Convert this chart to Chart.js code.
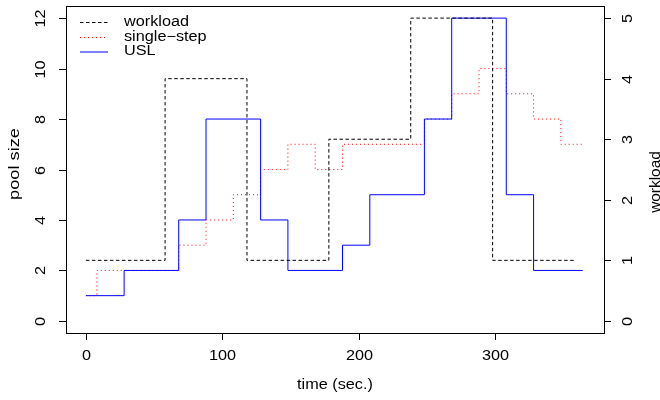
<!DOCTYPE html>
<html>
<head>
<meta charset="utf-8">
<script src="https://cdn.jsdelivr.net/npm/chart.js@4.4.0/dist/chart.umd.min.js"></script>
<style>
  html, body { margin: 0; padding: 0; background: #fff; }
  #wrap { width: 660px; height: 400px; }
</style>
</head>
<body>
<div id="wrap"><canvas id="poolChart" width="660" height="400"></canvas></div>
<script>
// step series: each level holds from its time until the next time
const workloadTimes = [0, 58, 118, 178, 238, 298, 358];
const workloadLevels = [1, 4, 1, 3, 5, 1, 1];

const singleStepTimes = [0, 8, 68, 88, 108, 128, 148, 168, 188, 248, 268, 288, 308, 328, 348, 365];
const singleStepSizes = [1, 2, 3, 4, 5, 6, 7, 6, 7, 8, 9, 10, 9, 8, 7, 7];

const uslTimes = [0, 28, 68, 88, 128, 148, 188, 208, 248, 268, 308, 328, 364];
const uslSizes = [1, 2, 4, 8, 4, 2, 3, 5, 8, 12, 5, 2, 2];

const timeTicks = [0, 100, 200, 300];
const poolTicks = [0, 2, 4, 6, 8, 10, 12];
const workloadTicks = [0, 1, 2, 3, 4, 5];

const legendNames = ['workload', 'single\u2212step', 'USL'];

const FONT = '14px "Liberation Sans", Arial, sans-serif';
const STRETCH = 1.16; // glyphs run a bit wide along the text direction

// range padded by 4% on both sides, like base R plots
function padRange(lo, hi) {
    const pad = (hi - lo) * 0.04;
    return { min: lo - pad, max: hi + pad };
}

function toPoints(times, values) {
    return times.map((t, i) => ({ x: t, y: values[i] }));
}

const allTimes = workloadTimes.concat(singleStepTimes, uslTimes);
const xRange = padRange(Math.min(...allTimes), Math.max(...allTimes));
const poolRange = padRange(poolTicks[0], poolTicks[poolTicks.length - 1]);
const loadRange = padRange(workloadTicks[0], workloadTicks[workloadTicks.length - 1]);

function drawText(ctx, text, x, y, rotated, align, stretch) {
    ctx.save();
    ctx.translate(x, y);
    if (rotated) ctx.rotate(-Math.PI / 2);
    ctx.scale(stretch || STRETCH, 1);
    ctx.textAlign = align || 'center';
    ctx.textBaseline = 'middle';
    ctx.fillText(text, 0, 0);
    ctx.restore();
}

// box, axes, titles and legend drawn the way base graphics does
const baseAxes = {
    id: 'baseAxes',
    afterDraw(chart) {
        const ctx = chart.ctx;
        const a = chart.chartArea;
        const xs = chart.scales.x;
        const yl = chart.scales.y;
        const yr = chart.scales.y2;
        const tick = 7;

        ctx.save();
        ctx.strokeStyle = '#000';
        ctx.fillStyle = '#000';
        ctx.lineWidth = 1;
        ctx.setLineDash([]);
        ctx.font = FONT;

        ctx.strokeRect(Math.round(a.left) + 0.5, Math.round(a.top) + 0.5,
            Math.round(a.right - a.left), Math.round(a.bottom - a.top));

        timeTicks.forEach(v => {
            const px = Math.round(xs.getPixelForValue(v)) + 0.5;
            ctx.beginPath();
            ctx.moveTo(px, a.bottom);
            ctx.lineTo(px, a.bottom + tick);
            ctx.stroke();
            drawText(ctx, String(v), px, 356, false);
        });
        drawText(ctx, 'time (sec.)', (a.left + a.right) / 2, 385, false);

        poolTicks.forEach(v => {
            const py = Math.round(yl.getPixelForValue(v)) + 0.5;
            ctx.beginPath();
            ctx.moveTo(a.left, py);
            ctx.lineTo(a.left - tick, py);
            ctx.stroke();
            drawText(ctx, String(v), 41, py, true);
        });
        drawText(ctx, 'pool size', 15, 164, true, 'center', 1.3);

        workloadTicks.forEach(v => {
            const py = Math.round(yr.getPixelForValue(v)) + 0.5;
            ctx.beginPath();
            ctx.moveTo(a.right, py);
            ctx.lineTo(a.right + tick, py);
            ctx.stroke();
            drawText(ctx, String(v), 628, py, true);
        });
        drawText(ctx, 'workload', 656, 182, true, 'center', 1.1);

        // legend without a box
        const rows = [22, 37, 51.5];
        chart.data.datasets.forEach((ds, i) => {
            ctx.save();
            ctx.strokeStyle = ds.borderColor;
            ctx.setLineDash(ds.borderDash || []);
            ctx.lineWidth = 1;
            ctx.beginPath();
            ctx.moveTo(80, rows[i] + 0.5);
            ctx.lineTo(108, rows[i] + 0.5);
            ctx.stroke();
            ctx.restore();
            drawText(ctx, legendNames[i], 124, rows[i], false, 'left');
        });
        ctx.restore();
    }
};

new Chart(document.getElementById('poolChart').getContext('2d'), {
    type: 'line',
    data: {
        datasets: [{
            label: legendNames[0],
            data: toPoints(workloadTimes, workloadLevels),
            yAxisID: 'y2',
            borderColor: '#000000',
            borderDash: [3.5, 2.5],
            order: 0
        }, {
            label: legendNames[1],
            data: toPoints(singleStepTimes, singleStepSizes),
            yAxisID: 'y',
            borderColor: '#ff0000',
            borderDash: [1, 3],
            order: 2
        }, {
            label: legendNames[2],
            data: toPoints(uslTimes, uslSizes),
            yAxisID: 'y',
            borderColor: '#0000ff',
            order: 1
        }]
    },
    options: {
        responsive: false,
        animation: false,
        events: [],
        layout: { padding: { left: 66, top: 6, right: 56, bottom: 67 } },
        datasets: {
            line: {
                stepped: 'before',
                borderWidth: 1,
                borderCapStyle: 'butt',
                pointRadius: 0,
                fill: false
            }
        },
        scales: {
            x: { type: 'linear', display: false, min: xRange.min, max: xRange.max },
            y: { type: 'linear', display: false, min: poolRange.min, max: poolRange.max },
            y2: { type: 'linear', display: false, min: loadRange.min, max: loadRange.max }
        },
        plugins: {
            legend: { display: false },
            tooltip: { enabled: false }
        }
    },
    plugins: [baseAxes]
});
</script>
</body>
</html>
